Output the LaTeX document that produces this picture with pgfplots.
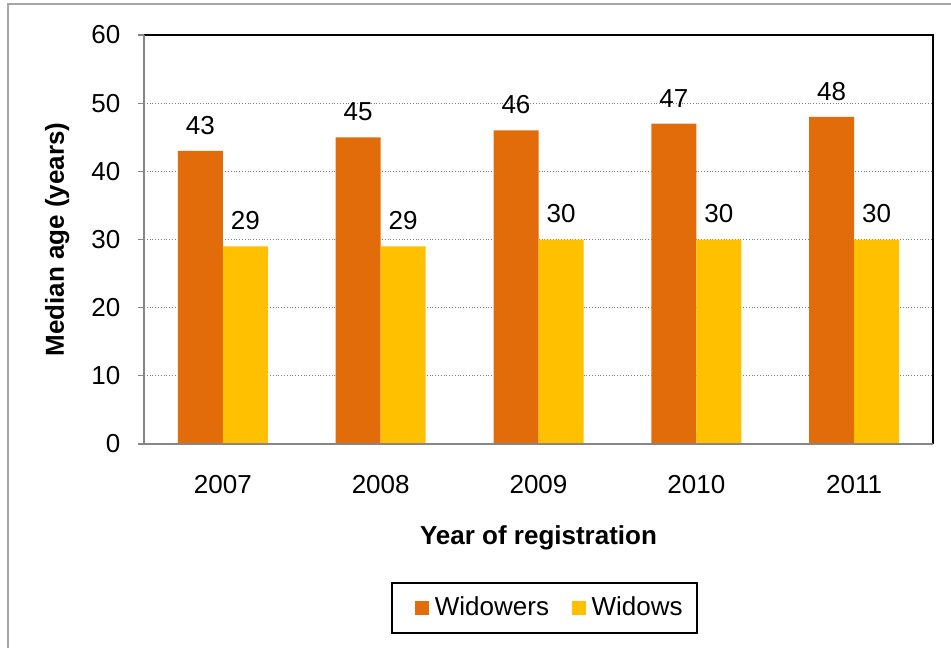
\documentclass[border=0pt]{standalone}
\usepackage{pgfplots}
\pgfplotsset{compat=1.18}
\usepackage{fontspec}
\setmainfont{Liberation Sans}
\definecolor{orangebar}{HTML}{E36C0A}
\definecolor{yellowbar}{HTML}{FFC000}
\definecolor{framegray}{HTML}{A6A6A6}
\definecolor{axisgray}{HTML}{868686}
\begin{document}
\begin{tikzpicture}
\path[use as bounding box] (0,0) rectangle (475.5pt,323.5pt);
\draw[framegray, line width=0.6pt] (4pt,-2pt) -- (4pt,321.5pt) -- (480pt,321.5pt);
\begin{axis}[
  at={(72pt,101.5pt)}, anchor=south west,
  scale only axis, width=394.5pt, height=204.5pt,
  ybar=0pt, bar width=22.5pt,
  xmin=-0.5, xmax=4.5, ymin=0, ymax=60,
  xtick={0,1,2,3,4}, xticklabels={2007,2008,2009,2010,2011},
  ytick={0,10,20,30,40,50,60},
  axis line style={draw=none},
  x tick style={draw=none}, major tick length=3pt,
  y tick style={axisgray, line width=0.6pt},
  tick align=outside, ytick pos=left, xtick pos=bottom,
  ymajorgrids, major grid style={densely dotted, gray, line width=0.6pt},
  /pgf/number format/assume math mode=true,
  ticklabel style={font=\fontsize{13}{15}\selectfont},
  xticklabel style={anchor=north, yshift=-9pt},
  yticklabel style={xshift=-5.3pt},
  xlabel={\textbf{Year of registration}},
  ylabel={\textbf{Median age (years)}},
  label style={font=\fontsize{13}{15}\selectfont},
  xlabel style={at={(axis description cs:0.5,-0.23)}, anchor=center},
  ylabel style={at={(axis description cs:-0.110,0.5)}, anchor=center},
  nodes near coords,
  every node near coord/.append style={font=\fontsize{13}{15}\selectfont, yshift=4.7pt},
  legend columns=2,
  legend style={at={(0.5076,-0.401)}, anchor=center, draw=black, line width=0.8pt,
    font=\fontsize{13}{15}\selectfont, inner xsep=7.3pt, inner ysep=6.9pt,
    nodes={inner sep=0pt},
    /tikz/every odd column/.append style={column sep=3pt},
    /tikz/every even column/.append style={column sep=7pt}},
  legend image code/.code={\path (-4.3pt,0pt); \fill[#1, draw=none] (0pt,-3.5pt) rectangle (7pt,3.5pt);},
  clip=false,
]
\addplot[fill=orangebar, draw=none] coordinates {(0,43) (1,45) (2,46) (3,47) (4,48)};
\addplot[fill=yellowbar, draw=none] coordinates {(0,29) (1,29) (2,30) (3,30) (4,30)};
\legend{Widowers, Widows}
\draw[black, line width=0.8pt] (rel axis cs:0,1) -- (rel axis cs:1,1) -- (rel axis cs:1,0);
\draw[axisgray, line width=0.6pt] (rel axis cs:0,1) -- (rel axis cs:0,0) -- (rel axis cs:1,0);
\end{axis}
\end{tikzpicture}
\end{document}
